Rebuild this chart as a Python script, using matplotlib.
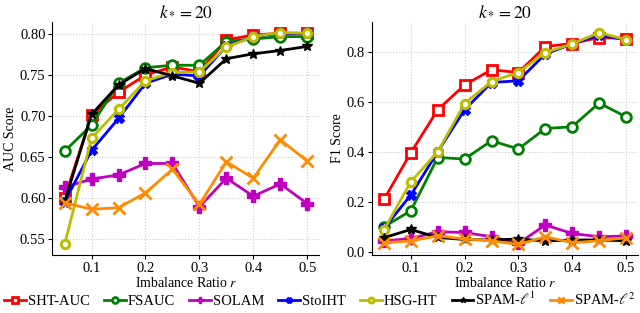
import matplotlib
matplotlib.use("Agg")
import matplotlib.pyplot as plt

ratios = [0.05, 0.1, 0.15, 0.2, 0.25, 0.3, 0.35, 0.4, 0.45, 0.5]

auc_sht = [0.600, 0.701, 0.729, 0.750, 0.760, 0.754, 0.793, 0.799, 0.801, 0.801]
auc_fsauc = [0.657, 0.689, 0.740, 0.759, 0.762, 0.762, 0.791, 0.794, 0.797, 0.797]
auc_solam = [0.613, 0.623, 0.628, 0.642, 0.642, 0.589, 0.624, 0.602, 0.617, 0.593]
auc_stoiht = [0.595, 0.658, 0.697, 0.740, 0.751, 0.749, 0.785, 0.797, 0.801, 0.801]
auc_hsg = [0.543, 0.673, 0.708, 0.743, 0.753, 0.754, 0.784, 0.797, 0.802, 0.801]
auc_spam1 = [0.595, 0.702, 0.738, 0.758, 0.749, 0.740, 0.770, 0.776, 0.780, 0.785]
auc_spam2 = [0.594, 0.586, 0.588, 0.606, 0.635, 0.592, 0.644, 0.624, 0.671, 0.645]

f1_sht = [0.209, 0.396, 0.568, 0.667, 0.728, 0.717, 0.821, 0.833, 0.857, 0.853]
f1_fsauc = [0.100, 0.164, 0.377, 0.371, 0.444, 0.411, 0.493, 0.500, 0.595, 0.540]
f1_solam = [0.043, 0.053, 0.080, 0.077, 0.060, 0.033, 0.107, 0.073, 0.060, 0.063]
f1_stoiht = [0.093, 0.227, 0.400, 0.568, 0.677, 0.684, 0.791, 0.831, 0.867, 0.848]
f1_hsg = [0.087, 0.280, 0.400, 0.593, 0.681, 0.717, 0.797, 0.831, 0.877, 0.848]
f1_spam1 = [0.056, 0.089, 0.057, 0.049, 0.047, 0.051, 0.043, 0.047, 0.047, 0.044]
f1_spam2 = [0.036, 0.043, 0.064, 0.051, 0.044, 0.029, 0.060, 0.036, 0.044, 0.056]

labels = ['SHT-AUC', 'FSAUC', 'SOLAM', 'StoIHT', 'HSG-HT', r'SPAM-$\ell^1$', r'SPAM-$\ell^2$']
title = r'$k_* = 20$'
xlabel = r'Imbalance Ratio $r$'

plt.rcParams['font.family'] = ['Liberation Serif', 'DejaVu Serif']
plt.rcParams['mathtext.fontset'] = 'stix'
plt.rcParams['font.size'] = 10

styles = [
    dict(color='#ff0000', marker='s', mfc='white', ms=7, mew=2),
    dict(color='#008000', marker='o', mfc='white', ms=7, mew=2),
    dict(color='#c000c0', marker='P', ms=8, mew=1),
    dict(color='#0000ff', marker='X', ms=7, mew=1),
    dict(color='#bcbc00', marker='o', mfc='white', ms=6, mew=2.2),
    dict(color='black', marker='*', ms=7, mew=1),
    dict(color='#ff8c00', marker='x', ms=8, mew=2),
]

fig = plt.figure(figsize=(6.4, 3.13), dpi=100)
ax1 = fig.add_axes([0.082, 0.185, 0.417, 0.745])
ax2 = fig.add_axes([0.581, 0.185, 0.416, 0.745])

auc_data = [auc_sht, auc_fsauc, auc_solam, auc_stoiht, auc_hsg, auc_spam1, auc_spam2]
f1_data = [f1_sht, f1_fsauc, f1_solam, f1_stoiht, f1_hsg, f1_spam1, f1_spam2]

handles = []
for ax, data, ylab in [(ax1, auc_data, 'AUC Score'), (ax2, f1_data, 'F1 Score')]:
    for d, st, lab in zip(data, styles, labels):
        h, = ax.plot(ratios, d, lw=2, label=lab, **st)
        if ax is ax1:
            handles.append(h)
    ax.set_title(title, fontsize=12.5, pad=4)
    ax.set_xlabel(xlabel, labelpad=1)
    ax.set_ylabel(ylab, labelpad=2)
    ax.grid(True, linestyle=':', color='#cccccc', lw=0.8)
    ax.spines['top'].set_visible(False)
    ax.spines['right'].set_visible(False)
    ax.set_xticks([0.1, 0.2, 0.3, 0.4, 0.5])
    ax.tick_params(direction='out', length=3, pad=2, labelsize=10.5)

ax1.set_yticks([0.55, 0.60, 0.65, 0.70, 0.75, 0.80])
ax1.set_yticklabels(['0.55', '0.60', '0.65', '0.70', '0.75', '0.80'])
ax2.set_yticks([0.0, 0.2, 0.4, 0.6, 0.8])
ax2.set_yticklabels(['0.0', '0.2', '0.4', '0.6', '0.8'])

fig.legend(handles=handles, labels=labels, loc='lower center', ncol=7, frameon=False,
           bbox_to_anchor=(0.5, -0.025), handlelength=1.5, handletextpad=0.1,
           columnspacing=1.0, markerscale=0.6, fontsize=10.5)

fig.savefig('out.png', dpi=100)
